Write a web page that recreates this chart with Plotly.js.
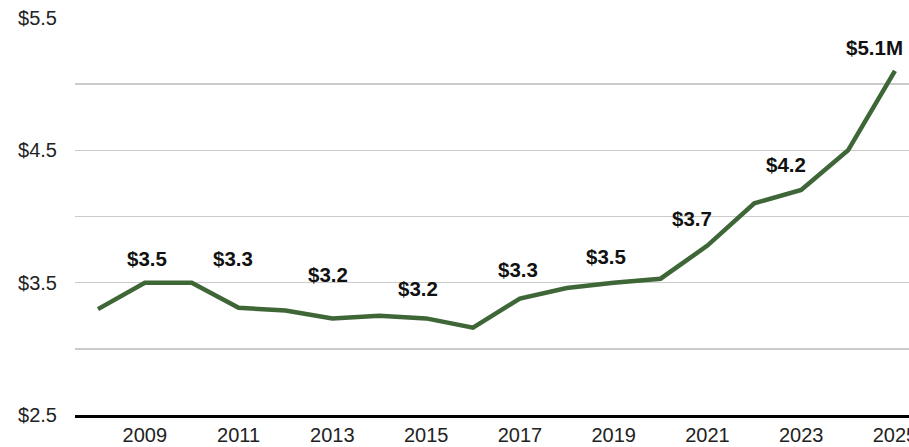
<!DOCTYPE html>
<html>
<head>
<meta charset="utf-8">
<script src="https://cdn.plot.ly/plotly-3.0.1.min.js"></script>
<style>
  html, body { margin: 0; padding: 0; background: #fff; }
  #chart { width: 909px; height: 447px; }
</style>
</head>
<body>
<div id="chart"></div>
<script>
// yearly values ($M)
const years = [2008, 2009, 2010, 2011, 2012, 2013, 2014, 2015, 2016, 2017, 2018, 2019, 2020, 2021, 2022, 2023, 2024, 2025];
const values = [3.30, 3.50, 3.50, 3.31, 3.29, 3.23, 3.25, 3.23, 3.16, 3.38, 3.46, 3.50, 3.53, 3.78, 4.10, 4.20, 4.50, 5.10];

// labelled points
const labelYears = [2009, 2011, 2013, 2015, 2017, 2019, 2021, 2023, 2025];
const labelTexts = ["$3.5", "$3.3", "$3.2", "$3.2", "$3.3", "$3.5", "$3.7", "$4.2", "$5.1M"];
// pixel nudges for each label (dx, dy)
const labelDx = [2, -6, -4, -8, -2, -8, -15, -15, -20];
const labelDy = [24, 49, 44, 30, 29, 26, 27, 26, 23];

const yTickVals = [2.5, 3, 3.5, 4, 4.5, 5, 5.5];
const yTickText = ["$2.5", "", "$3.5", "", "$4.5", "", "$5.5"];

const lineTrace = {
  x: years,
  y: values,
  type: "scatter",
  mode: "lines",
  line: { color: "#3e6637", width: 4.5 },
  hoverinfo: "skip",
  cliponaxis: false,
};

const annotations = labelYears.map((yr, i) => ({
  x: yr,
  y: values[years.indexOf(yr)],
  text: "<b>" + labelTexts[i] + "</b>",
  showarrow: false,
  xshift: labelDx[i],
  yshift: labelDy[i],
  font: { size: 20.5, color: "#111" },
}));

const layout = {
  width: 909,
  height: 447,
  margin: { l: 75, r: 0, t: 18, b: 32 },
  paper_bgcolor: "#fff",
  plot_bgcolor: "#fff",
  font: { family: "Liberation Sans, Arial, sans-serif", color: "#222", size: 20 },
  showlegend: false,
  xaxis: {
    range: [2007.51, 2025.3],
    tick0: 2009,
    dtick: 2,
    showgrid: false,
    zeroline: false,
    showline: true,
    linecolor: "#000",
    linewidth: 2.5,
    ticks: "",
    ticklabelstandoff: 0,
    ticklabeloverflow: "allow",
  },
  yaxis: {
    range: [2.5, 5.5],
    tickvals: yTickVals,
    ticktext: yTickText,
    showgrid: true,
    gridcolor: "#cbcbcb",
    gridwidth: 1.5,
    zeroline: false,
    showline: false,
    ticks: "",
    ticklabelstandoff: 17,
  },
  annotations: annotations,
};

Plotly.newPlot("chart", [lineTrace], layout, { displayModeBar: false, staticPlot: true });
</script>
</body>
</html>
